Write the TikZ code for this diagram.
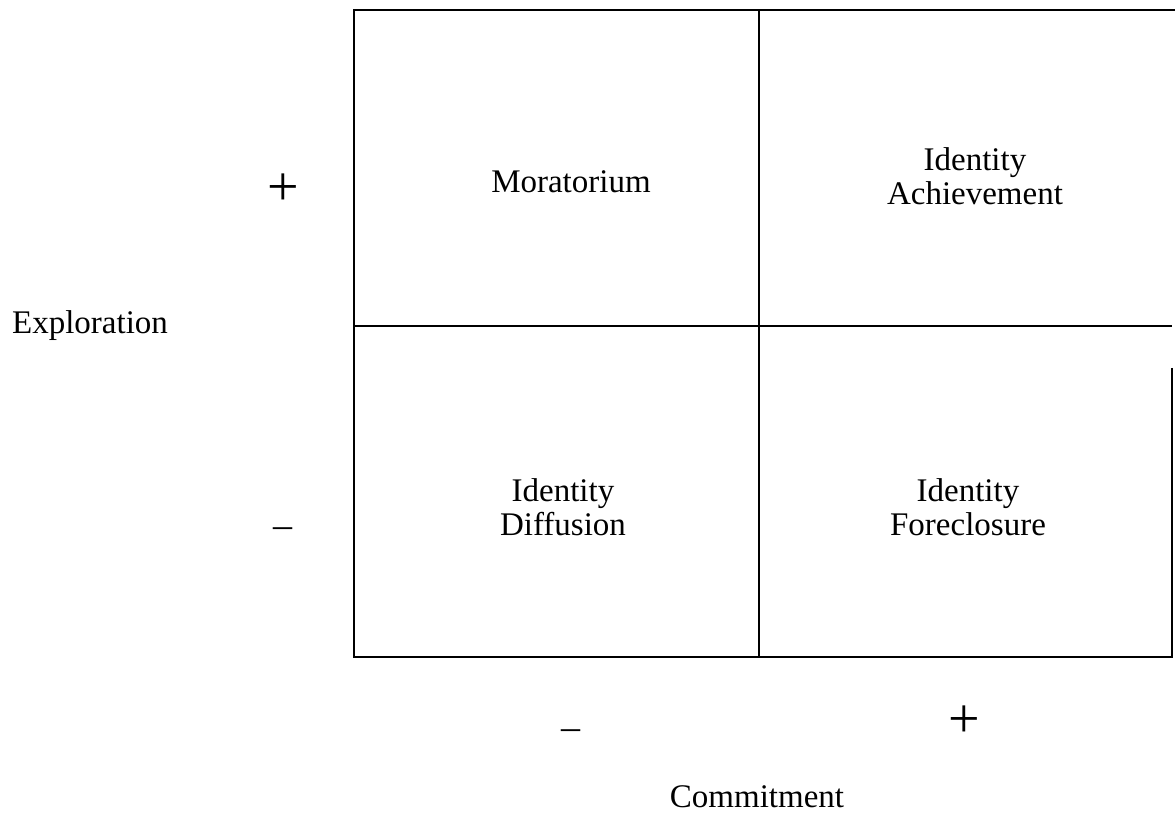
\documentclass[tikz,border=0pt]{standalone}
\usepackage{fontspec}
\setmainfont{Liberation Serif}
\usetikzlibrary{positioning}
\tikzset{
  grid line/.style={line width=1.3pt,black},
  cell/.style={align=center,inner sep=0,font=\fontsize{16.5}{17}\selectfont},
  axis name/.style={inner sep=0,font=\fontsize{16.5}{20}\selectfont},
  sign/.style={inner sep=0,font=\fontsize{28}{30}\selectfont},
  dash sign/.style={inner sep=0,font=\fontsize{19}{20}\selectfont}
}
\begin{document}
\begin{tikzpicture}[x=0.5pt,y=-0.5pt]
  \useasboundingbox (0,0) rectangle (1175,817);
  % the four cells
  \draw[grid line]
    (1172,368) -- (1172,657) -- (354,657) -- (354,10) -- (1175,10)
    (759,10)  -- (759,657)
    (354,326) -- (1172,326);
  \node[cell] (morat)  at (571,182) {Moratorium};
  \node[cell] (achiev) at (975,176) {Identity\\Achievement};
  \node[cell] (diffus) at (563,507) {Identity\\Diffusion};
  \node[cell] (forecl) at (968,507) {Identity\\Foreclosure};
  % axes
  \node[axis name] (explor) at (90,326)  {Exploration};
  \node[axis name] (commit) at (757,797) {Commitment};
  \node[sign]      (exp+)   at (283,190) {+};
  \node[dash sign] (exp-)   at (283,533) {–};
  \node[dash sign] (com-)   at (571,735) {–};
  \node[sign]      (com+)   at (964,722) {+};
\end{tikzpicture}
\end{document}
